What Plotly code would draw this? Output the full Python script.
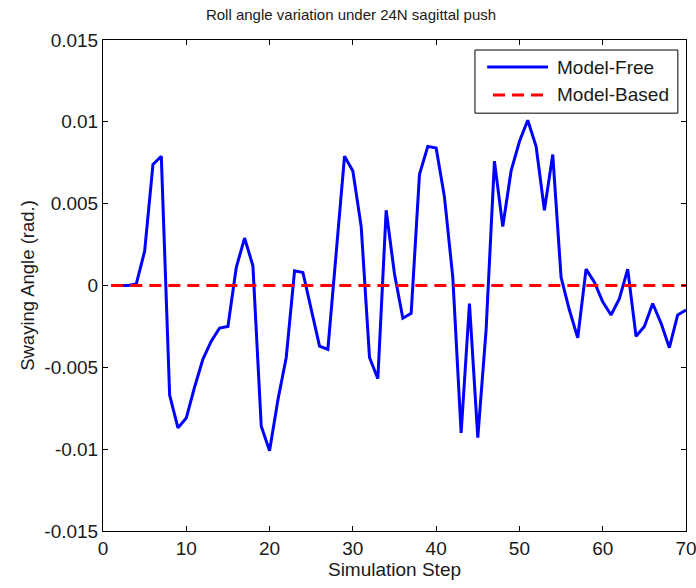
import plotly.graph_objects as go

steps = list(range(1, 71))
model_free = [
    0.0, 0.0, 0.0, 0.0001, 0.0021, 0.0074, 0.0079, -0.0067, -0.0087, -0.0081,
    -0.0062, -0.0045, -0.0034, -0.0026, -0.0025, 0.0011, 0.0029, 0.0012, -0.0086, -0.0101,
    -0.0070, -0.0044, 0.0009, 0.0008, -0.0015, -0.0037, -0.0039, 0.0018, 0.0079, 0.0070,
    0.0036, -0.0044, -0.0057, 0.0046, 0.0007, -0.0020, -0.0017, 0.0068, 0.0085, 0.0084,
    0.0054, 0.0005, -0.0090, -0.0011, -0.0093, -0.0027, 0.0076, 0.0036, 0.0070, 0.0088,
    0.0101, 0.0085, 0.0046, 0.0080, 0.0005, -0.0015, -0.0032, 0.0010, 0.0002, -0.0010,
    -0.0018, -0.0008, 0.0010, -0.0031, -0.0025, -0.0011, -0.0023, -0.0038, -0.0018, -0.0015,
]
model_based = [0.0] * 70
series_names = ["Model-Free", "Model-Based"]
series_colors = ["#0000FF", "#FF0000"]
series_dash = ["solid", "12px,7px"]

y_ticks = [0.015, 0.01, 0.005, 0, -0.005, -0.01, -0.015]
y_tick_text = ["0.015", "0.01", "0.005", "0", "-0.005", "-0.01", "-0.015"]
x_ticks = [0, 10, 20, 30, 40, 50, 60, 70]

font_family = "Liberation Sans, Arial, sans-serif"
txt_color = "#1a1a1a"

fig = go.Figure()
for name, ys, col, dash in zip(series_names, [model_free, model_based], series_colors, series_dash):
    fig.add_trace(go.Scatter(x=steps, y=ys, mode="lines", name=name,
                             line=dict(color=col, width=3, dash=dash), showlegend=False))

axis_common = dict(showline=True, linecolor="black", linewidth=1, mirror="ticks",
                   ticks="inside", ticklen=5, tickcolor="black", showgrid=False,
                   zeroline=False, automargin=False, ticklabeloverflow="allow",
                   tickfont=dict(family=font_family, size=19, color=txt_color))

# Custom legend box (paper coordinates) mimicking the MATLAB legend
lx0, lx1, ly0, ly1 = 0.638, 0.986, 0.851, 0.9796
line_x0, line_x1 = 0.659, 0.7633
text_x = 0.7753
row_y = [0.945, 0.888]
shapes = [dict(type="rect", xref="paper", yref="paper", x0=lx0, x1=lx1, y0=ly0, y1=ly1,
               line=dict(color="black", width=1), fillcolor="white", layer="above")]
annotations = []
for i, (name, col, dash) in enumerate(zip(series_names, series_colors, series_dash)):
    sx0 = line_x0 if i == 0 else line_x0 + 0.01
    shapes.append(dict(type="line", xref="paper", yref="paper", x0=sx0, x1=line_x1,
                       y0=row_y[i], y1=row_y[i], line=dict(color=col, width=3, dash=dash),
                       layer="above"))
    annotations.append(dict(xref="paper", yref="paper", x=text_x, y=row_y[i], text=name,
                            showarrow=False, xanchor="left", yanchor="middle",
                            font=dict(family=font_family, size=19, color=txt_color)))

fig.update_layout(
    width=696, height=588,
    margin=dict(l=103, r=10, t=40, b=57),
    paper_bgcolor="white", plot_bgcolor="white",
    title=dict(text="Roll angle variation under 24N sagittal push", x=351/696, xanchor="center",
               xref="container", y=1 - 15/588, yanchor="middle",
               font=dict(family=font_family, size=15, color=txt_color)),
    xaxis=dict(range=[0, 70], tickvals=x_ticks,
               title=dict(text="Simulation Step", font=dict(family=font_family, size=19, color=txt_color), standoff=2),
               **axis_common),
    yaxis=dict(range=[-0.015, 0.015], tickvals=y_ticks, ticktext=y_tick_text,
               title=dict(text="Swaying Angle (rad.)", font=dict(family=font_family, size=18.5, color=txt_color), standoff=4),
               **axis_common),
    shapes=shapes,
    annotations=annotations,
    showlegend=False,
)

fig.write_html("out.html")
